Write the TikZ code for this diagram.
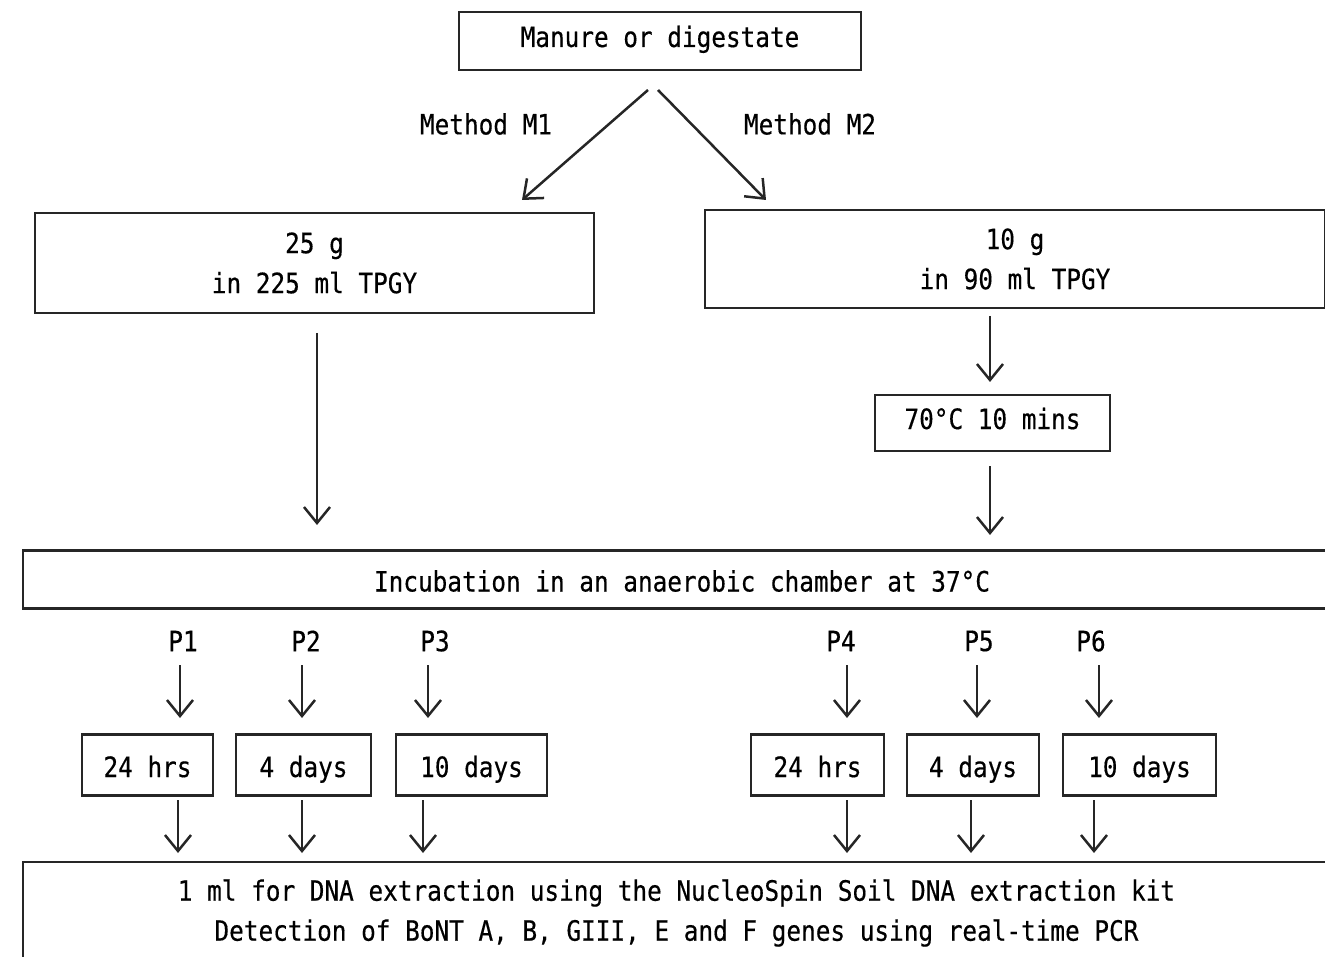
\documentclass[tikz,border=0pt]{standalone}
\usepackage{fontspec}
\setmainfont{DejaVu Sans Mono}[FakeStretch=0.87,FakeBold=0.4]
\usetikzlibrary{arrows.meta}
\begin{document}
\begin{tikzpicture}[x=1pt,y=-1pt,
  txt/.style={font=\fontsize{28}{40}\selectfont, inner sep=0pt, align=center},
  box/.style={txt, draw, line width=2.5pt, color=black!85, text=black},
  one/.style={text height=24pt, text depth=0pt},
  hi/.style={text height=12pt, text depth=0pt},
  arr/.style={line width=2.5pt, color=black!85, -{Straight Barb[length=16pt,width=26pt,line width=2.5pt]}}]
\useasboundingbox (0,0) rectangle (1325,957);
% boxes
\node[box, hi, minimum width=402pt, minimum height=58pt] (top) at (660,41) {Manure or digestate};
\node[box, minimum width=559pt, minimum height=100pt] (b25) at (314.5,263) {25 g\\in 225 ml TPGY};
\node[box, minimum width=620pt, minimum height=98pt] (b10) at (1015,259) {10 g\\in 90 ml TPGY};
\node[box, hi, minimum width=235pt, minimum height=56pt] (hot) at (992.5,423) {70°C 10 mins};
\node[box, one, minimum width=1318pt, minimum height=58pt] (inc) at (682,579.5) {Incubation in an anaerobic chamber at 37°C};
\node[box, one, minimum width=131pt, minimum height=61pt] (s1) at (147.5,765) {24 hrs};
\node[box, one, minimum width=135pt, minimum height=61pt] (s2) at (303.5,765) {4 days};
\node[box, one, minimum width=151pt, minimum height=61pt] (s3) at (471.5,765) {10 days};
\node[box, one, minimum width=133pt, minimum height=61pt] (s4) at (817.5,765) {24 hrs};
\node[box, one, minimum width=132pt, minimum height=61pt] (s5) at (973,765) {4 days};
\node[box, one, minimum width=153pt, minimum height=61pt] (s6) at (1139.5,765) {10 days};
\node[box, minimum width=1307pt, minimum height=102pt] (bot) at (676.5,913) {1 ml for DNA extraction using the NucleoSpin Soil DNA extraction kit\\Detection of BoNT A, B, GIII, E and F genes using real-time PCR};
% labels
\node[txt] (m1) at (486,124) {Method M1};
\node[txt] (m2) at (810,124) {Method M2};
\node[txt] (p1) at (183,641) {P1};
\node[txt] (p2) at (306,641) {P2};
\node[txt] (p3) at (435,641) {P3};
\node[txt] (p4) at (841,641) {P4};
\node[txt] (p5) at (979,641) {P5};
\node[txt] (p6) at (1091,641) {P6};
% connector end points
\coordinate (t1) at (648,90);  \coordinate (t1e) at (522,200);
\coordinate (t2) at (658,90);  \coordinate (t2e) at (766,200);
\draw[arr] (t1) -- (t1e);
\draw[arr] (t2) -- (t2e);
\draw[arr] (317,333) -- (317,525);
\draw[arr] (990,316) -- (990,382);
\draw[arr] (990,466) -- (990,535);
\foreach \x in {180,302,428,847,977,1099} \draw[arr] (\x,665) -- (\x,718);
\foreach \x in {178,302,423,847,971,1094} \draw[arr] (\x,800) -- (\x,853);
\end{tikzpicture}
\end{document}
